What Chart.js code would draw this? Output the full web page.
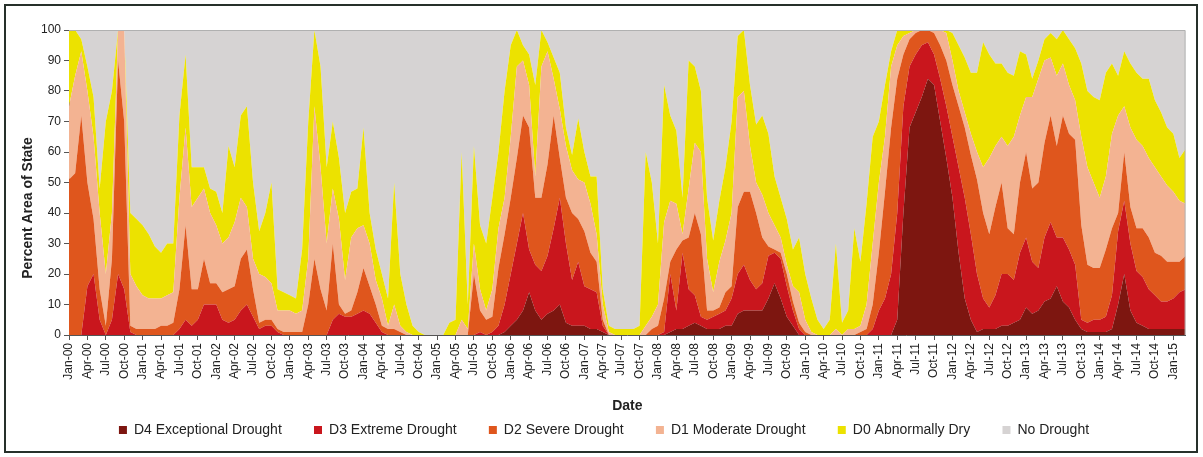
<!DOCTYPE html>
<html>
<head>
<meta charset="utf-8">
<title>Drought Monitor – Percent Area of State</title>
<script src="https://cdn.jsdelivr.net/npm/chart.js@4.4.1/dist/chart.umd.min.js"></script>
<style>
  html, body { margin: 0; padding: 0; background: #ffffff; }
  #wrap { width: 1203px; height: 457px; position: relative; }
</style>
</head>
<body>
<div id="wrap"><canvas id="chart" width="1203" height="457"></canvas></div>
<script>
// Monthly readings, Jan 2000 – Mar 2015. Each array is the percent of the
// state in that category or worse (cumulative), one row per year.
const d0 = [ // D0–D4
  100,100,97,88,78,48,70,80,100,100,40,38,
  36,33,29,27,30,30,72,92,55,55,55,48,
  47,40,62,55,72,75,50,34,40,50,15,14,
  13,12,28,70,100,88,55,70,58,40,47,48,
  68,40,28,20,12,50,20,10,3,1,0,0,
  0,0,4,5,60,10,62,36,30,45,60,80,
  95,100,95,92,82,100,96,91,86,68,59,71,
  60,52,52,15,3,2,2,2,2,3,60,50,
  30,82,72,67,45,90,88,80,45,31,44,55,
  70,98,100,82,69,72,66,52,45,38,28,32,
  20,12,5,2,5,30,4,8,35,24,43,65,
  70,82,93,100,100,100,100,100,100,100,100,100,
  99,95,91,86,86,96,92,89,89,86,85,93,
  92,84,90,97,99,97,100,97,94,89,80,78,
  77,86,89,85,93,89,86,84,84,77,73,68,
  66,58,61
];
const d1 = [ // D1–D4
  75,85,93,80,65,40,20,40,100,100,20,16,
  13,12,12,12,13,14,45,68,42,45,48,40,
  36,30,32,37,45,42,25,20,19,17,8,8,
  8,7,8,25,75,55,30,48,38,18,32,35,
  36,30,18,12,3,10,3,1,0,0,0,0,
  0,0,0,0,5,2,30,15,8,15,35,45,
  65,88,90,82,52,88,93,84,74,62,54,51,
  50,43,33,10,1,0,0,0,0,0,3,6,
  10,37,44,43,33,48,63,60,25,14,24,31,
  40,78,80,62,50,46,40,36,32,23,16,14,
  5,1,0,0,0,2,0,2,2,3,10,30,
  50,65,88,95,98,99,100,100,100,100,100,99,
  90,80,73,66,60,55,58,62,65,62,65,72,
  78,78,84,90,91,85,89,82,77,65,55,50,
  45,52,66,72,75,68,64,62,58,55,52,49,
  47,44,43
];
const d2 = [ // D2–D4
  51,53,72,50,38,15,3,25,90,70,3,2,
  2,2,2,3,3,4,15,36,15,15,25,17,
  17,14,15,16,25,28,15,4,5,5,2,1,
  1,1,1,10,25,15,8,30,10,7,8,14,
  22,16,10,3,2,2,1,0,0,0,0,0,
  0,0,0,0,0,0,20,8,5,6,22,33,
  45,58,72,68,45,45,56,72,58,45,40,38,
  34,27,24,5,0,0,0,0,0,0,0,2,
  3,12,24,28,31,32,40,33,8,8,9,14,
  16,42,47,47,40,32,29,28,27,20,11,4,
  1,0,0,0,0,0,0,0,0,1,2,10,
  27,47,68,84,92,97,99,100,100,99,95,90,
  82,75,68,59,51,40,33,42,50,35,33,50,
  60,48,50,63,72,62,72,66,64,36,23,22,
  22,28,35,40,60,42,35,35,32,27,26,24,
  24,24,26
];
const d3 = [ // D3–D4
  0,0,0,16,20,5,0,5,20,15,1,0,
  0,0,0,0,0,0,2,5,3,5,10,10,
  10,5,4,5,8,10,6,2,3,3,1,0,
  0,0,0,0,0,0,0,5,7,6,6,7,
  8,7,4,1,0,0,0,0,0,0,0,0,
  0,0,0,0,0,0,0,1,0,1,3,10,
  20,30,40,28,23,21,26,35,45,30,18,24,
  16,15,14,3,0,0,0,0,0,0,0,0,
  0,1,20,8,27,15,13,6,5,6,7,8,
  12,20,23,18,15,17,26,27,25,16,8,2,
  0,0,0,0,0,0,0,0,0,0,0,2,
  8,12,20,40,75,88,92,95,96,92,84,75,
  65,55,45,33,20,12,9,13,20,20,18,27,
  32,24,22,32,37,32,32,28,23,5,4,5,
  5,6,13,34,44,30,21,19,15,13,11,11,
  12,14,15
];
const d4 = [ // D4
  0,0,0,0,0,0,0,0,0,0,0,0,
  0,0,0,0,0,0,0,0,0,0,0,0,
  0,0,0,0,0,0,0,0,0,0,0,0,
  0,0,0,0,0,0,0,0,0,0,0,0,
  0,0,0,0,0,0,0,0,0,0,0,0,
  0,0,0,0,0,0,0,0,0,0,0,1,
  3,5,8,14,8,5,7,8,10,4,3,3,
  3,2,2,1,0,0,0,0,0,0,0,0,
  0,0,1,2,2,3,4,3,2,2,2,3,
  3,7,8,8,8,8,12,17,12,6,3,0,
  0,0,0,0,0,0,0,0,0,0,0,0,
  0,0,0,5,40,68,73,78,84,82,70,58,
  45,27,12,5,1,2,2,2,3,3,4,5,
  9,7,8,11,12,16,11,9,5,2,1,1,
  1,1,2,10,20,8,4,3,2,2,2,2,
  2,2,2
];

// Category labels: one per month, "Jan-00" … "Mar-15"
const monthNames = ['Jan','Feb','Mar','Apr','May','Jun','Jul','Aug','Sep','Oct','Nov','Dec'];
const dates = d0.map((_, i) =>
  monthNames[i % 12] + '-' + String(Math.floor(i / 12)).padStart(2, '0'));

const seriesNames = ['D4 Exceptional Drought', 'D3 Extreme Drought', 'D2 Severe Drought',
                     'D1 Moderate Drought', 'D0 Abnormally Dry', 'No Drought'];
const seriesColors = ['#7d1610', '#c9161d', '#df561d', '#f3b392', '#ece200', '#d6d3d3'];

const FONT = '"Liberation Sans", Arial, sans-serif';
const INK = '#222222';
const AXIS = '#555555';
const Y_TITLE = 'Percent Area of State';

const areaStyle = { borderWidth: 0, pointRadius: 0, pointHoverRadius: 0, tension: 0 };

// Page frame, the light outline on the top / right of the plot, and the
// vertical axis title (sits a little below the middle of the axis)
const framePlugin = {
  id: 'frame',
  beforeDraw(chart) {
    const { ctx, width, height } = chart;
    ctx.save();
    ctx.fillStyle = '#ffffff';
    ctx.fillRect(0, 0, width, height);
    ctx.restore();
  },
  afterDraw(chart) {
    const { ctx, chartArea: a } = chart;
    ctx.save();
    ctx.strokeStyle = '#b0b0b0';
    ctx.lineWidth = 1;
    ctx.beginPath();
    ctx.moveTo(a.left, a.top + 0.5);
    ctx.lineTo(a.right - 0.5, a.top + 0.5);
    ctx.lineTo(a.right - 0.5, a.bottom);
    ctx.stroke();

    ctx.strokeStyle = '#26302a';
    ctx.lineWidth = 2;
    ctx.strokeRect(5, 5, 1192, 447);

    ctx.translate(28, 208);
    ctx.rotate(-Math.PI / 2);
    ctx.fillStyle = INK;
    ctx.font = 'bold 14px ' + FONT;
    ctx.textAlign = 'center';
    ctx.textBaseline = 'middle';
    ctx.fillText(Y_TITLE, 0, 0);
    ctx.restore();
  }
};

new Chart(document.getElementById('chart'), {
  type: 'line',
  data: {
    labels: dates,
    datasets: [
      { label: seriesNames[0], data: d4, backgroundColor: seriesColors[0], fill: 'origin', ...areaStyle },
      { label: seriesNames[1], data: d3, backgroundColor: seriesColors[1], fill: '-1', ...areaStyle },
      { label: seriesNames[2], data: d2, backgroundColor: seriesColors[2], fill: '-1', ...areaStyle },
      { label: seriesNames[3], data: d1, backgroundColor: seriesColors[3], fill: '-1', ...areaStyle },
      { label: seriesNames[4], data: d0, backgroundColor: seriesColors[4], fill: '-1', ...areaStyle },
      // the area above the D0–D4 line is the part of the state without drought
      { label: seriesNames[5], data: d0, backgroundColor: seriesColors[5], fill: 'end', ...areaStyle }
    ]
  },
  options: {
    responsive: false,
    animation: false,
    events: [],
    layout: { padding: { top: 30, left: 20, right: 15, bottom: 10 } },
    scales: {
      x: {
        type: 'category',
        offset: false,
        grid: {
          drawOnChartArea: false,
          tickLength: 5,
          tickColor: (c) => (c.index % 3 === 0 ? AXIS : 'rgba(0,0,0,0)')
        },
        border: { display: true, color: AXIS, width: 1 },
        ticks: {
          autoSkip: false,
          minRotation: 90,
          maxRotation: 90,
          padding: 3,
          color: INK,
          font: { family: FONT, size: 12 },
          callback(value, index) { return index % 3 === 0 ? this.getLabelForValue(value) : ''; }
        },
        title: {
          display: true,
          text: 'Date',
          color: INK,
          font: { family: FONT, size: 14, weight: 'bold' },
          padding: { top: 4, bottom: 3 }
        },
        afterFit(scale) { scale.height = 83; }
      },
      y: {
        min: 0,
        max: 100,
        grid: { drawOnChartArea: false, tickLength: 5, tickColor: AXIS },
        border: { display: true, color: AXIS, width: 1 },
        ticks: {
          stepSize: 10,
          padding: 3,
          color: INK,
          font: { family: FONT, size: 12 }
        },
        title: { display: false },
        afterFit(scale) { scale.width = 49; }
      }
    },
    plugins: {
      tooltip: { enabled: false },
      legend: {
        position: 'bottom',
        labels: {
          boxWidth: 8,
          boxHeight: 8,
          padding: 5,
          color: INK,
          font: { family: FONT, size: 14 },
          generateLabels(chart) {
            const items = Chart.defaults.plugins.legend.labels.generateLabels(chart);
            items.forEach((it, i) => { if (i < items.length - 1) it.text += '       '; });
            return items;
          }
        }
      }
    }
  },
  plugins: [framePlugin]
});
</script>
</body>
</html>
